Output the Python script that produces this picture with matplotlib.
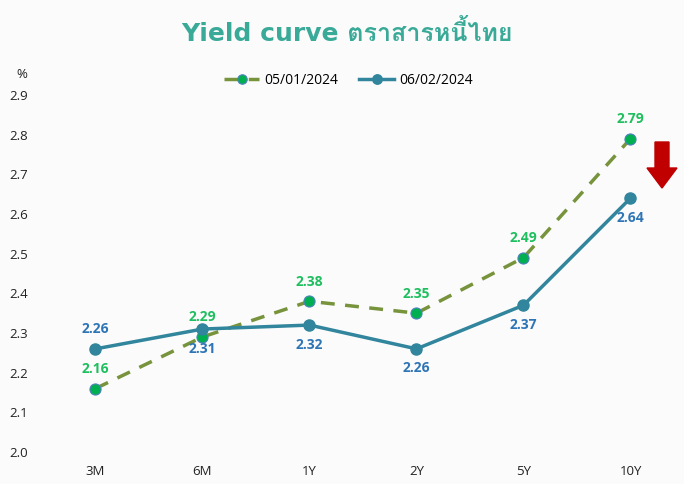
import matplotlib
matplotlib.use("Agg")
import matplotlib.pyplot as plt
from matplotlib import font_manager
from matplotlib.patches import FancyArrow
from fontTools.ttLib import TTFont

tenors = ["3M", "6M", "1Y", "2Y", "5Y", "10Y"]
yield_jan = [2.16, 2.29, 2.38, 2.35, 2.49, 2.79]
yield_feb = [2.26, 2.31, 2.32, 2.26, 2.37, 2.64]
label_jan = "05/01/2024"
label_feb = "06/02/2024"
title = "Yield curve ตราสารหนี้ไทย"

# look for an installed font that has Thai glyphs
thai_font = None
for f in font_manager.fontManager.ttflist:
    try:
        cmap = TTFont(f.fname, fontNumber=0, lazy=True).getBestCmap()
        if cmap and 0x0E15 in cmap:
            thai_font = f.name
            break
    except Exception:
        pass
title_fams = ["DejaVu Sans"] + ([thai_font] if thai_font else [])

plt.rcParams["font.family"] = ["Open Sans", "DejaVu Sans"]

fig = plt.figure(figsize=(6.84, 4.84), dpi=100)
fig.patch.set_facecolor("#fbfbfb")
ax = fig.add_axes([0.0614, 0.0661, 0.9386, 0.7376])
ax.set_facecolor("none")

x = list(range(len(tenors)))
green_line = "#77933c"
green_pt = "#00b050"
teal = "#31859c"
blue_txt = "#2e75b6"

ax.plot(x, yield_jan, color=green_line, lw=2.5, ls=(0, (4, 3)),
        marker="o", ms=8, mfc=green_pt, mec="#4f81bd", mew=0.8,
        label=label_jan, zorder=3)
ax.plot(x, yield_feb, color=teal, lw=2.5, marker="o", ms=8,
        mfc=teal, mec=teal, label=label_feb, zorder=4)

for i, v in enumerate(yield_jan):
    ax.annotate(f"{v:.2f}", (i, v), xytext=(0, 9), textcoords="offset points",
                ha="center", va="bottom", color="#1fbf5f", fontsize=10,
                fontweight="bold")
for i, v in enumerate(yield_feb):
    off, va = (-9, "top") if i > 0 else (9, "bottom")
    ax.annotate(f"{v:.2f}", (i, v), xytext=(0, off), textcoords="offset points",
                ha="center", va=va, color=blue_txt, fontsize=10,
                fontweight="bold")

ax.set_xlim(-0.5, 5.5)
ax.set_ylim(2.0, 2.9)
ax.set_yticks([2.0 + 0.1 * k for k in range(10)])
ax.set_yticklabels([f"{2.0 + 0.1 * k:.1f}" for k in range(10)])
ax.set_xticks(x)
ax.set_xticklabels(tenors)
ax.tick_params(length=0, labelsize=9.5, colors="#222222")
ax.tick_params(axis="y", pad=10)
ax.tick_params(axis="x", pad=9)
for s in ax.spines.values():
    s.set_visible(False)

fig.text(22 / 684, 1 - 75 / 484, "%", ha="center", va="center",
         fontsize=9.5, color="#222222")

fig.text(0.507, 1 - 33 / 484, title, ha="center", va="center",
         fontsize=18, fontweight="bold", color="#3aaa98", family=title_fams)

fig.legend(loc="center", bbox_to_anchor=(0.51, 1 - 80 / 484), ncol=2,
           frameon=False, fontsize=10, handlelength=2.5, handletextpad=0.4,
           columnspacing=1.5, markerscale=0.85)

fig.patches.append(FancyArrow(662 / 684, 1 - 142 / 484, 0, -46 / 484,
                              width=14 / 684, head_width=30 / 684,
                              head_length=20 / 484, length_includes_head=True,
                              color="#c00000", transform=fig.transFigure,
                              figure=fig))

fig.savefig("out.png", dpi=100, facecolor=fig.get_facecolor())
